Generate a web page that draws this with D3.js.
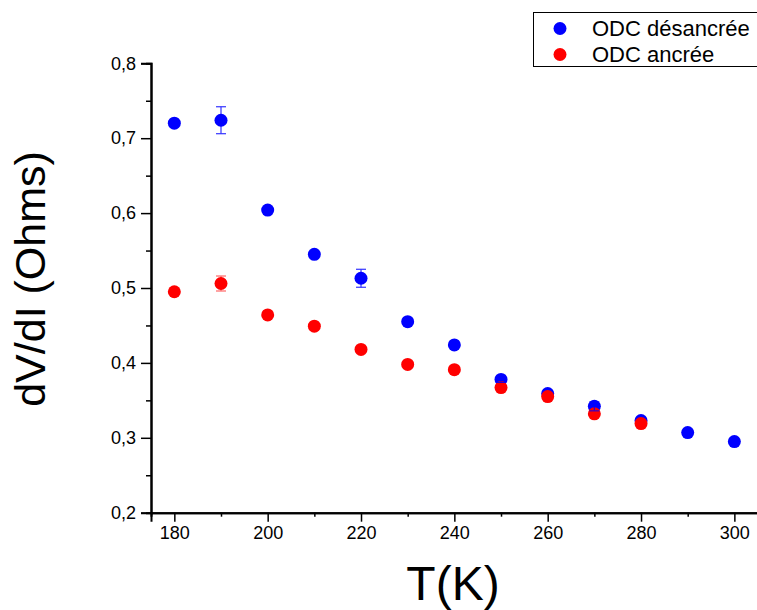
<!DOCTYPE html>
<html><head><meta charset="utf-8">
<script src="https://cdn.jsdelivr.net/npm/d3@7"></script>
<style>body{margin:0;background:#fff}svg{display:block;font-family:"Liberation Sans",Arial,sans-serif}</style>
</head><body>
<script>
const temps = [180,190,200,210,220,230,240,250,260,270,280,290,300];
const desancree = [0.720,0.724,0.604,0.545,0.513,0.455,0.424,0.378,0.359,0.342,0.323,0.307,0.295];
const desancreeErr = [0.002,0.018,0.002,0.003,0.012,0.003,0.003,0.004,0.002,0.006,0.002,0.002,0.002];
const ancreeT = [180,190,200,210,220,230,240,250,260,270,280];
const ancree = [0.495,0.506,0.464,0.449,0.418,0.398,0.391,0.367,0.355,0.332,0.319];
const ancreeErr = [0.002,0.010,0.002,0.002,0.002,0.002,0.002,0.003,0.002,0.002,0.002];
const xMajor = [180,200,220,240,260,280,300];
const xMinor = [190,210,230,250,270,290];
const yMajor = [0.2,0.3,0.4,0.5,0.6,0.7,0.8];
const yMinor = [0.25,0.35,0.45,0.55,0.65,0.75];
const seriesNames = ["ODC désancrée","ODC ancrée"];
const colors = ["#0000ff","#ff0000"];

const W=757,H=610;
const svg=d3.select("body").append("svg").attr("width",W).attr("height",H);
const x=d3.scaleLinear().domain([175,305]).range([151,757.7]);
const y=d3.scaleLinear().domain([0.2,0.8]).range([512.7,63.3]);
const fmt=d=>d3.format(".1f")(d).replace(".",",");

svg.append("g").attr("transform",`translate(0,${y(0.2)})`)
  .call(d3.axisBottom(x).tickValues(xMajor).tickSize(9).tickPadding(5).tickFormat(d3.format("d")));
svg.append("g").attr("transform",`translate(0,${y(0.2)})`)
  .call(d3.axisBottom(x).tickValues(xMinor).tickSize(4).tickFormat(""));
svg.append("g").attr("transform",`translate(${x(175)},0)`)
  .call(d3.axisLeft(y).tickValues(yMajor).tickSize(10).tickPadding(5).tickFormat(fmt));
svg.append("g").attr("transform",`translate(${x(175)},0)`)
  .call(d3.axisLeft(y).tickValues(yMinor).tickSize(5).tickFormat(""));
svg.selectAll(".domain").attr("stroke","#000").attr("stroke-width",2);
svg.selectAll(".tick line").attr("stroke","#000").attr("stroke-width",1.5);
svg.selectAll(".tick text").attr("fill","#000").style("font-size","18px").style("font-family","'Liberation Sans', Arial, sans-serif");

const r=6.5;
const blue=temps.map((t,i)=>({t,v:desancree[i],e:desancreeErr[i]}));
const red=ancreeT.map((t,i)=>({t,v:ancree[i],e:ancreeErr[i]}));
svg.append("g").selectAll("circle").data(blue).join("circle")
  .attr("cx",d=>x(d.t)).attr("cy",d=>y(d.v)).attr("r",r).attr("fill",colors[0]);
svg.append("g").selectAll("circle").data(red).join("circle")
  .attr("cx",d=>x(d.t)).attr("cy",d=>y(d.v)).attr("r",r).attr("fill",colors[1]);

function errBars(data,color,op){
  const g=svg.append("g").attr("stroke",color).attr("stroke-width",1.2).attr("opacity",op);
  data.forEach(d=>{
    const cx=x(d.t),y1=y(d.v+d.e),y2=y(d.v-d.e);
    g.append("line").attr("x1",cx).attr("x2",cx).attr("y1",y1).attr("y2",y2);
    g.append("line").attr("x1",cx-5).attr("x2",cx+5).attr("y1",y1).attr("y2",y1);
    g.append("line").attr("x1",cx-5).attr("x2",cx+5).attr("y1",y2).attr("y2",y2);
  });
}
errBars(red.filter(d=>d.e>0.005),colors[1],0.6);
errBars(blue.filter(d=>d.e>0.003),colors[0],0.8);

svg.append("text").attr("x",453).attr("y",600).attr("text-anchor","middle")
  .attr("font-size",48).text("T(K)");
svg.append("text").attr("transform",`translate(45,279) rotate(-90)`).attr("text-anchor","middle")
  .attr("font-size",43).text("dV/dI (Ohms)");

const lg=svg.append("g");
lg.append("rect").attr("x",533.5).attr("y",12.5).attr("width",240).attr("height",54)
  .attr("fill","#fff").attr("stroke","#000").attr("stroke-width",1);
seriesNames.forEach((n,i)=>{
  const cy=28.5+i*26;
  lg.append("circle").attr("cx",560).attr("cy",cy).attr("r",r).attr("fill",colors[i]);
  lg.append("text").attr("x",592).attr("y",cy+7.5).attr("font-size",22).text(n);
});
</script>
</body></html>
